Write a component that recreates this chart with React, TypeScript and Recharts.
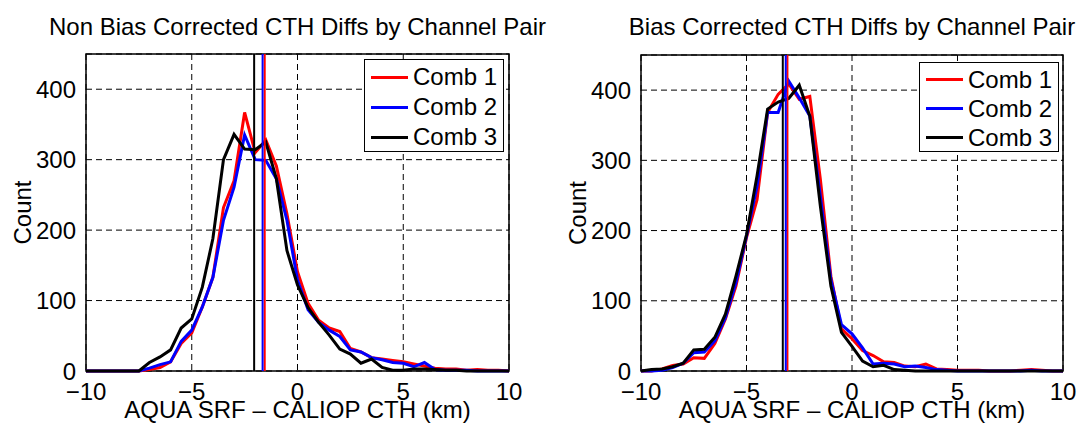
import React from "react";
import {
  LineChart,
  Line,
  XAxis,
  YAxis,
  CartesianGrid,
  ReferenceLine,
  ReferenceArea,
} from "recharts";

const FONT = '"Liberation Sans", Arial, Helvetica, sans-serif';

// histogram bin centres (km)
const bins = [
  -10, -9.5, -9, -8.5, -8, -7.5, -7, -6.5, -6, -5.5, -5, -4.5, -4, -3.5, -3, -2.5, -2, -1.5, -1, -0.5,
  0, 0.5, 1, 1.5, 2, 2.5, 3, 3.5, 4, 4.5, 5, 5.5, 6, 6.5, 7, 7.5, 8, 8.5, 9, 9.5, 10,
];

// non bias corrected counts
const rawComb1 = [
  0, 0, 0, 0, 0, 0, 2, 5, 13, 39, 54, 91, 133, 232, 270, 367, 310, 328, 291, 223,
  141, 96, 72, 61, 56, 32, 27, 19, 17, 15, 13, 10, 7, 4, 3, 3, 1, 2, 1, 1, 0,
];
const rawComb2 = [
  0, 0, 0, 0, 0, 0, 4, 9, 13, 42, 58, 91, 133, 214, 261, 335, 300, 299, 273, 214,
  129, 87, 69, 58, 49, 30, 27, 19, 16, 12, 11, 6, 12, 2, 1, 1, 1, 0, 0, 0, 0,
];
const rawComb3 = [
  0, 0, 0, 0, 0, 0, 12, 20, 30, 61, 74, 119, 188, 300, 336, 315, 314, 325, 273, 171,
  122, 90, 69, 51, 31, 24, 11, 17, 5, 1, 1, 3, 3, 2, 1, 1, 0, 0, 0, 0, 0,
];
const rawMeans = [-1.55, -1.65, -2.05];

// bias corrected counts
const bcComb1 = [
  0, 0, 3, 8, 10, 19, 18, 39, 74, 121, 190, 244, 368, 394, 409, 387, 391, 273, 135, 60,
  46, 29, 22, 13, 12, 7, 6, 10, 3, 2, 1, 1, 1, 0, 0, 0, 1, 2, 1, 0, 0,
];
const bcComb2 = [
  0, 0, 1, 5, 11, 26, 27, 43, 76, 126, 192, 263, 368, 368, 413, 389, 363, 249, 130, 66,
  53, 33, 10, 11, 10, 6, 7, 5, 2, 1, 0, 0, 0, 0, 0, 0, 0, 1, 0, 0, 0,
];
const bcComb3 = [
  0, 2, 3, 6, 11, 30, 31, 48, 81, 135, 194, 278, 373, 383, 388, 407, 363, 235, 121, 55,
  35, 14, 6, 8, 2, 1, 0, 0, 0, 0, 0, 0, 0, 0, 0, 0, 0, 0, 0, 0, 0,
];
const bcMeans = [-3.06, -3.14, -3.28];

const names = ["Comb 1", "Comb 2", "Comb 3"];
const colors = ["#ff0000", "#0000ff", "#000000"];
const xTicks = [-10, -5, 0, 5, 10];
const yTicks = [0, 100, 200, 300, 400];
const xLabel = "AQUA SRF – CALIOP CTH (km)";

const fmtX = (v: number) => (v < 0 ? `\u2212${Math.abs(v)}` : `${v}`);

function Panel({
  title,
  series,
  means,
  left,
  width,
  top,
  right,
  legendLeft,
  legendTop,
  rowH,
}: {
  title: string;
  series: number[][];
  means: number[];
  left: number;
  width: number;
  top: number;
  right: number;
  legendLeft: number;
  legendTop: number;
  rowH: number;
}) {
  const rows = bins.map((x, i) => ({
    x,
    c1: series[0][i],
    c2: series[1][i],
    c3: series[2][i],
  }));
  const plotLeft = 86;
  const plotW = width - plotLeft - right;

  return (
    <div style={{ position: "absolute", left, top: 0, width, height: 425 }}>
      <div
        style={{
          position: "absolute",
          left: plotLeft - 150,
          width: plotW + 300,
          top: 15,
          lineHeight: "24px",
          fontSize: 24,
          textAlign: "center",
          whiteSpace: "nowrap",
        }}
      >
        {title}
      </div>
      <LineChart
        width={width}
        height={425}
        data={rows}
        margin={{ top, right, left: 0, bottom: 0 }}
        style={{ position: "absolute", left: 0, top: 0 }}
      >
        <CartesianGrid stroke="#000" strokeDasharray="6 4" strokeWidth={1} />
        <XAxis
          dataKey="x"
          type="number"
          domain={[-10, 10]}
          ticks={xTicks}
          interval={0}
          tickFormatter={fmtX}
          tick={{ fontSize: 24, fill: "#000", fontFamily: FONT }}
          axisLine={false}
          tickLine={false}
          tickSize={0}
          tickMargin={12}
          height={425 - 371}
        />
        <YAxis
          type="number"
          domain={[0, 450]}
          ticks={yTicks}
          interval={0}
          tick={{ fontSize: 24, fill: "#000", fontFamily: FONT }}
          axisLine={false}
          tickLine={false}
          tickSize={0}
          tickMargin={10}
          width={plotLeft}
          label={{
            content: (p: any) => {
              const vb = p.viewBox || { x: 0, y: top, height: 371 - top };
              const cx = vb.x + 31;
              const cy = vb.y + vb.height / 2;
              return (
                <text
                  x={cx}
                  y={cy}
                  transform={`rotate(-90 ${cx} ${cy})`}
                  textAnchor="middle"
                  fontSize={24}
                  fontFamily={FONT}
                  fill="#000"
                >
                  Count
                </text>
              );
            },
          }}
        />
        {["c1", "c2", "c3"].map((k, i) => (
          <Line
            key={k}
            dataKey={k}
            type="linear"
            stroke={colors[i]}
            strokeWidth={3}
            dot={false}
            isAnimationActive={false}
          />
        ))}
        {means.map((m, i) => (
          <ReferenceLine key={i} x={m} stroke={colors[i]} strokeWidth={2} />
        ))}
        <ReferenceArea
          x1={-10}
          x2={10}
          y1={0}
          y2={450}
          fill="none"
          fillOpacity={0}
          stroke="#000"
          strokeWidth={1.5}
          strokeOpacity={1}
        />
      </LineChart>
      <div
        style={{
          position: "absolute",
          left: plotLeft - 100,
          width: plotW + 200,
          top: 398,
          lineHeight: "24px",
          fontSize: 24,
          textAlign: "center",
          whiteSpace: "nowrap",
        }}
      >
        {xLabel}
      </div>
      <div
        style={{
          position: "absolute",
          left: legendLeft,
          top: legendTop,
          width: 140,
          height: rowH * 3 + 3,
          border: "1.5px solid #000",
          background: "#fff",
          boxSizing: "border-box",
          paddingTop: 2,
        }}
      >
        {names.map((n, i) => (
          <div
            key={n}
            style={{
              display: "flex",
              alignItems: "center",
              height: rowH,
              fontSize: 24,
              lineHeight: `${rowH}px`,
            }}
          >
            <span
              style={{
                display: "inline-block",
                marginLeft: 6,
                width: 37,
                height: 3,
                background: colors[i],
              }}
            />
            <span style={{ marginLeft: 5 }}>{n}</span>
          </div>
        ))}
      </div>
    </div>
  );
}

export default function App() {
  return (
    <div
      style={{
        position: "fixed",
        left: 0,
        top: 0,
        width: 1086,
        height: 425,
        overflow: "hidden",
        background: "#fff",
        fontFamily: FONT,
        color: "#000",
      }}
    >
      <Panel
        title="Non Bias Corrected CTH Diffs by Channel Pair"
        series={[rawComb1, rawComb2, rawComb3]}
        means={rawMeans}
        left={0}
        width={543}
        top={54}
        right={34}
        legendLeft={364}
        legendTop={59}
        rowH={30}
      />
      <Panel
        title="Bias Corrected CTH Diffs by Channel Pair"
        series={[bcComb1, bcComb2, bcComb3]}
        means={bcMeans}
        left={555}
        width={531}
        top={55}
        right={23}
        legendLeft={919 - 555}
        legendTop={62}
        rowH={29}
      />
    </div>
  );
}
